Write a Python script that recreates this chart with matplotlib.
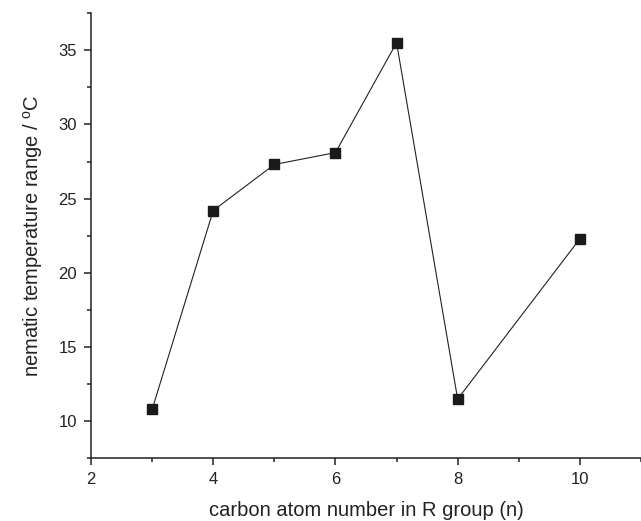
import matplotlib
matplotlib.use("Agg")
import matplotlib.pyplot as plt
from matplotlib.ticker import MultipleLocator

# carbon atom number vs nematic range
n_carbon = [3, 4, 5, 6, 7, 8, 10]
nematic_range = [10.8, 24.2, 27.3, 28.1, 35.5, 11.5, 22.3]

plt.rcParams['font.family'] = ['Liberation Sans', 'DejaVu Sans']
plt.rcParams['mathtext.fontset'] = 'custom'
plt.rcParams['mathtext.rm'] = 'Liberation Sans'

fig = plt.figure(figsize=(6.41, 5.21), dpi=100)
ax = fig.add_axes([0.142, 0.12, 0.858, 0.855])

ax.plot(n_carbon, nematic_range, color="#222222", lw=0.8,
        marker="s", ms=6.5, mfc="#1a1a1a", mec="#1a1a1a")

ax.set_xlim(2, 11)
ax.set_ylim(7.5, 37.5)
ax.xaxis.set_major_locator(MultipleLocator(2))
ax.xaxis.set_minor_locator(MultipleLocator(1))
ax.yaxis.set_major_locator(MultipleLocator(5))
ax.yaxis.set_minor_locator(MultipleLocator(2.5))

for side in ["top", "right"]:
    ax.spines[side].set_visible(False)
for side in ["left", "bottom"]:
    ax.spines[side].set_linewidth(1.1)
    ax.spines[side].set_color("#222222")

ax.tick_params(which="major", direction="out", length=5, width=1.1,
               labelsize=12, colors="#222222", pad=5)
ax.tick_params(which="minor", direction="out", length=3, width=1.1,
               colors="#222222")

ax.set_xlabel("carbon atom number in R group (n)", fontsize=14.5,
              color="#222222", labelpad=10)
ax.set_ylabel("nematic temperature range / $^\\mathrm{o}$C", fontsize=14.5,
              color="#222222", labelpad=10)

fig.savefig("out.png", dpi=100)
